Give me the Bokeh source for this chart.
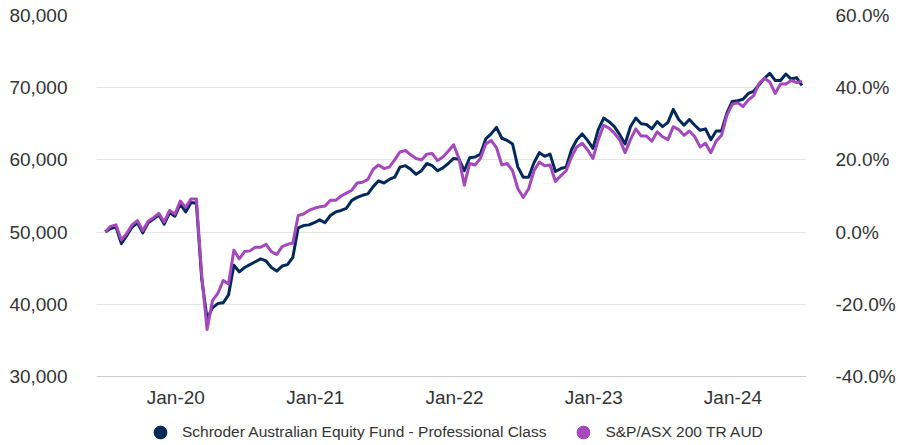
import pandas as pd
from bokeh.plotting import figure
from bokeh.models import (Range1d, LinearAxis, FixedTicker, NumeralTickFormatter,
                          DatetimeTickFormatter, Legend, LegendItem, ColumnDataSource)
from bokeh.embed import file_html
from bokeh.resources import INLINE

# ---------------- data ----------------
start_date = "2019-06-30"
end_date = "2024-06-30"

series_names = ["Schroder Australian Equity Fund - Professional Class", "S&P/ASX 200 TR AUD"]

fund_values = [
    50000, 50500, 50700, 48400, 49500, 50700, 51300, 49900, 51300, 51800,
    52400, 51100, 52700, 52200, 53900, 52800, 54100, 54000, 43500, 38000,
    39500, 40100, 40200, 41300, 45400, 44500, 45100, 45500, 45900, 46300,
    46000, 45100, 44600, 45300, 45500, 46500, 50600, 50900, 51000, 51300,
    51700, 51300, 52300, 52800, 53000, 53300, 54400, 54800, 55100, 55300,
    56300, 57100, 56800, 57300, 57600, 59000, 59200, 58700, 58000, 58500,
    59500, 59200, 58500, 58900, 59500, 60200, 60100, 58500, 60300, 60400,
    60800, 62900, 63600, 64500, 63000, 62700, 62200, 59000, 57600, 57600,
    59600, 61000, 60500, 60800, 58400, 58800, 59000, 61400, 62800, 63600,
    62700, 61600, 64200, 65800, 65300, 64600, 63500, 62200, 64600, 65800,
    65000, 64900, 64300, 65300, 64600, 65200, 67000, 65600, 64800, 65600,
    64800, 64100, 64300, 62800, 64000, 64000, 66500, 68100, 68200, 68400,
    69200, 69500, 70400, 71300, 72000, 71000, 71000, 71900, 71200, 71400,
    70300,
]

index_values = [
    50000, 50800, 51000, 48900, 49800, 51000, 51600, 50200, 51500, 52000,
    52600, 51400, 53000, 52500, 54300, 53400, 54600, 54600, 44000, 36500,
    40500, 41500, 43300, 42800, 47500, 46300, 47300, 47400, 47900, 47900,
    48300, 47300, 46900, 48000, 48300, 48500, 52300, 52500, 53000, 53300,
    53500, 53600, 54400, 54400, 55000, 55400, 55800, 56800, 56900, 57300,
    58700, 59300, 58800, 59000, 60000, 61100, 61300, 60700, 60200, 60000,
    60800, 60900, 59900, 60400, 61200, 62100, 60200, 56500, 59500, 59300,
    60200, 62200, 62700, 61700, 59300, 59500, 58500, 56000, 54800, 56000,
    58500, 59700, 59200, 59300, 57000, 57800, 58500, 60400, 61800, 62300,
    61400, 60200, 62800, 64800, 64400, 63700, 62800, 61000, 62800, 64300,
    63300, 63300, 62600, 63900, 63200, 62800, 64600, 64200, 63400, 64000,
    63200, 61800, 62300, 61000, 62600, 63400, 66200, 67700, 67900, 67400,
    68300, 68900, 70600, 71300, 70800, 69200, 70500, 70500, 71000, 70700,
    70900,
]

tick_dates = ["2020-01-01", "2021-01-01", "2022-01-01", "2023-01-01", "2024-01-01"]
left_ticks = [30000, 40000, 50000, 60000, 70000, 80000]
right_ticks = [-0.4, -0.2, 0.0, 0.2, 0.4, 0.6]
initial_investment = 50000

# ---------------- styling / layout ----------------
NAVY = "#03295a"
PURPLE = "#a547bd"
FONT = "Liberation Sans"
TEXT = "#333333"

W, H = 898, 445
TOP, LEFT, RIGHT = 15, 96, 86
AXIS_PX = 361          # pixels between the lowest and highest gridline
BELOW_PX = H - TOP - AXIS_PX   # room under the lowest gridline (x labels + legend)

span = left_ticks[-1] - left_ticks[0]
y_start = left_ticks[0] - span * BELOW_PX / AXIS_PX
y_end = left_ticks[-1]

dates = pd.date_range(start_date, end_date, periods=len(fund_values))
source = ColumnDataSource(data=dict(date=dates, fund=fund_values, index=index_values))

p = figure(
    width=W, height=H,
    x_axis_type="datetime",
    x_range=Range1d(pd.Timestamp("2019-06-07"), pd.Timestamp("2024-07-12")),
    y_range=Range1d(y_start, y_end),
    output_backend="svg", toolbar_location=None,
    min_border_left=LEFT, min_border_right=RIGHT, min_border_top=TOP, min_border_bottom=0,
)
p.outline_line_color = None
p.background_fill_color = "white"
p.border_fill_color = "white"

p.extra_y_ranges = {"pct": Range1d(y_start / initial_investment - 1,
                                   y_end / initial_investment - 1)}

# lines: fund first, index on top
p.line("date", "fund", source=source, line_color=NAVY, line_width=3, line_join="round")
p.line("date", "index", source=source, line_color=PURPLE, line_width=3, line_join="round")

# x axis drawn at the 30,000 level
xa = p.xaxis[0]
xa.fixed_location = left_ticks[0]
xa.ticker = FixedTicker(ticks=[pd.Timestamp(d).value / 1e6 for d in tick_dates])
xa.formatter = DatetimeTickFormatter(years="%b-%y", months="%b-%y", days="%b-%y")
xa.axis_line_color = "#cccccc"
xa.major_tick_line_color = None
xa.minor_tick_line_color = None
xa.major_label_standoff = 4
xa.major_label_text_font = FONT
xa.major_label_text_font_size = "19px"
xa.major_label_text_color = TEXT

ya = p.yaxis[0]
ya.ticker = FixedTicker(ticks=left_ticks)
ya.formatter = NumeralTickFormatter(format="0,0")
ya.axis_line_color = None
ya.major_tick_line_color = None
ya.minor_tick_line_color = None
ya.major_label_standoff = 23
ya.major_label_text_font = FONT
ya.major_label_text_font_size = "19px"
ya.major_label_text_color = TEXT

ra = LinearAxis(y_range_name="pct", ticker=FixedTicker(ticks=right_ticks),
                formatter=NumeralTickFormatter(format="0.0%"))
ra.axis_line_color = None
ra.major_tick_line_color = None
ra.minor_tick_line_color = None
ra.major_label_standoff = 23
ra.major_label_text_font = FONT
ra.major_label_text_font_size = "19px"
ra.major_label_text_color = TEXT
p.add_layout(ra, "right")

p.xgrid.grid_line_color = None
p.ygrid.ticker = FixedTicker(ticks=left_ticks)
p.ygrid.grid_line_color = "#e6e6e6"
p.ygrid.grid_line_width = 1

# legend with circle markers (helper renderers holding one undrawn point)
nan = float("nan")
r_fund = p.scatter(x=[dates[0]], y=[nan], marker="circle", size=13,
                   fill_color=NAVY, line_color=NAVY)
r_index = p.scatter(x=[dates[0]], y=[nan], marker="circle", size=13,
                    fill_color=PURPLE, line_color=PURPLE)
legend = Legend(
    items=[LegendItem(label=series_names[0], renderers=[r_fund]),
           LegendItem(label=series_names[1], renderers=[r_index])],
    location=(48, -3), orientation="horizontal",
    glyph_width=32, glyph_height=32, label_height=16, label_standoff=6, spacing=21,
    padding=0, margin=0, border_line_color=None, background_fill_alpha=0,
    label_text_font=FONT, label_text_font_size="15.5px", label_text_color=TEXT,
)
p.add_layout(legend)

open("out.html", "w").write(file_html(p, INLINE))
